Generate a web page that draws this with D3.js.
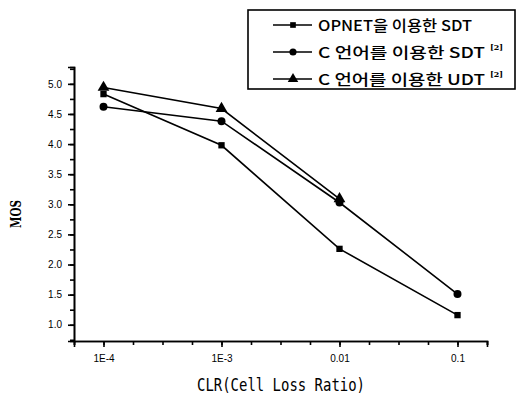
<!DOCTYPE html>
<html><head><meta charset="utf-8">
<script src="https://cdn.jsdelivr.net/npm/d3@7"></script>
<style>body{margin:0;background:#fff}svg{display:block}</style>
</head><body>
<script>
const categories = [1e-4, 1e-3, 1e-2, 1e-1];
const xTickLabels = ["1E-4", "1E-3", "0.01", "0.1"];
const yTicks = [1.0, 1.5, 2.0, 2.5, 3.0, 3.5, 4.0, 4.5, 5.0];
const opnetSDT = [4.83, 3.98, 2.26, 1.16];
const cSDT = [4.62, 4.38, 3.03, 1.51];
const cUDT = [4.94, 4.59, 3.09];
const seriesNames = ["OPNET을 이용한 SDT", "C 언어를 이용한 SDT", "C 언어를 이용한 UDT"];
const seriesSup = ["", "[2]", "[2]"];

const W = 516, H = 394;
const svg = d3.select("body").append("svg").attr("width", W).attr("height", H);

const x = d3.scaleLog().domain([Math.pow(10, -4.25), Math.pow(10, -0.75)]).range([74, 487]);
const y = d3.scaleLinear().domain([0.73, 5.28]).range([341, 67]);

const g = svg.append("g");

const xMinor = d3.range(-4.25, -0.74, 0.25).map(e => Math.pow(10, e));
const yMinor = d3.range(0.75, 5.26, 0.25);

const xAxis = d3.axisBottom(x).tickValues(categories).tickFormat((d, i) => xTickLabels[i]).tickSizeOuter(0).tickSize(6);
const xAxisMinor = d3.axisBottom(x).tickValues(xMinor).tickFormat("").tickSizeOuter(0).tickSize(4);
const yAxis = d3.axisLeft(y).tickValues(yTicks).tickFormat(d3.format(".1f")).tickSizeOuter(0).tickSize(6);
const yAxisMinor = d3.axisLeft(y).tickValues(yMinor).tickFormat("").tickSizeOuter(0).tickSize(4);

function styleAxis(sel) {
  sel.selectAll("path,line").attr("stroke", "#000").attr("stroke-width", 1.6);
  sel.selectAll("text").attr("fill", "#000").style("font-family", "Liberation Sans, Arial, sans-serif").style("font-size", "10px");
}
g.append("g").attr("transform", "translate(0,341)").call(xAxisMinor).call(styleAxis);
g.append("g").attr("transform", "translate(0,341)").call(xAxis).call(styleAxis).selectAll("text").attr("dy", "1.2em");
g.append("g").attr("transform", "translate(74,0)").call(yAxisMinor).call(styleAxis);
g.append("g").attr("transform", "translate(74,0)").call(yAxis).call(styleAxis).selectAll("text").attr("dx", "-0.3em");

svg.append("text").attr("x", 281).attr("y", 391).attr("text-anchor", "middle")
  .attr("textLength", 168).attr("lengthAdjust", "spacingAndGlyphs")
  .style("font-family", "DejaVu Sans Mono, monospace").style("font-size", "17px").text("CLR(Cell Loss Ratio)");
svg.append("text").attr("transform", "translate(21,214) rotate(-90)").attr("text-anchor", "middle")
  .attr("textLength", 28).attr("lengthAdjust", "spacingAndGlyphs")
  .style("font-family", "DejaVu Serif, serif").style("font-weight", "bold").style("font-size", "14px").text("MOS");

const line = d3.line().x((d, i) => x(categories[i])).y(d => y(d));
const allSeries = [opnetSDT, cSDT, cUDT];
const shapes = [d3.symbolSquare, d3.symbolCircle, d3.symbolTriangle];
const sizes = [40, 50, 60];

allSeries.forEach((s, k) => {
  g.append("path").datum(s).attr("d", line).attr("fill", "none").attr("stroke", "#000").attr("stroke-width", 1.6);
  g.selectAll(null).data(s).enter().append("path")
    .attr("transform", (d, i) => `translate(${x(categories[i])},${y(d)})`)
    .attr("d", d3.symbol().type(shapes[k]).size(sizes[k])).attr("fill", "#000");
});

const lg = svg.append("g");
lg.append("rect").attr("x", 248).attr("y", 10).attr("width", 267).attr("height", 79)
  .attr("fill", "#fff").attr("stroke", "#000").attr("stroke-width", 1.6);
const rowY = [25, 52, 79];
const textW = [154, 167, 167];
seriesNames.forEach((name, k) => {
  lg.append("line").attr("x1", 273).attr("x2", 312).attr("y1", rowY[k]).attr("y2", rowY[k]).attr("stroke", "#000").attr("stroke-width", 1.6);
  lg.append("path").attr("transform", `translate(293,${rowY[k]})`).attr("d", d3.symbol().type(shapes[k]).size(sizes[k] * 0.8)).attr("fill", "#000");
  lg.append("text").attr("x", 318).attr("y", rowY[k] + 6)
    .attr("textLength", textW[k]).attr("lengthAdjust", "spacingAndGlyphs")
    .style("font-family", "Noto Sans CJK KR, sans-serif").style("font-weight", "500").style("font-size", "15px").text(name);
  if (seriesSup[k]) {
    lg.append("text").attr("x", 318 + textW[k] + 5).attr("y", rowY[k] - 2)
      .style("font-family", "DejaVu Serif, serif").style("font-weight", "bold").style("font-size", "8px").text(seriesSup[k]);
  }
});
</script>
</body></html>
